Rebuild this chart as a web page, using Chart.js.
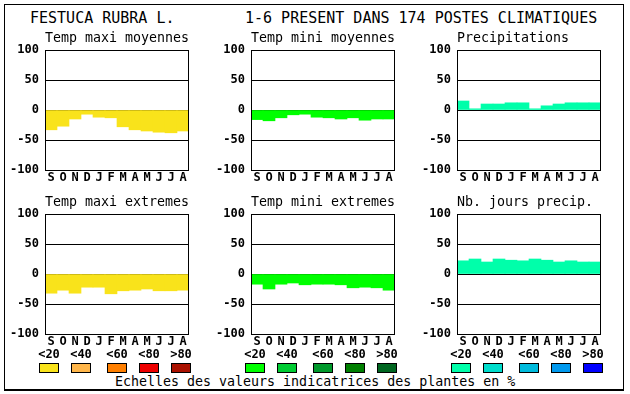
<!DOCTYPE html>
<html>
<head>
<meta charset="utf-8">
<script src="https://cdn.jsdelivr.net/npm/chart.js@4"></script>
<style>
  body { margin: 0; background: #fff; }
  #page { position: relative; width: 630px; height: 394px; overflow: hidden; font-family: "DejaVu Sans Mono", monospace; color: #000; }
  #page canvas { position: absolute; }
  .txt { position: absolute; white-space: pre; }
  .big { font-size: 15px; line-height: 20px; }
  .sub { font-size: 13.3px; line-height: 16px; }
  .lab { font-size: 12px; font-weight: bold; line-height: 14px; width: 40px; text-align: center; }
  .box { position: absolute; width: 20px; height: 10px; box-sizing: border-box; border: 1px solid #000; }
  #frame { position: absolute; left: 4px; top: 4px; width: 620px; height: 387px; box-sizing: border-box; border: 1px solid #000; border-bottom-width: 2px; }
</style>
</head>
<body>
<div id="page">
  <div id="frame"></div>
  <span class="txt big" style="left:30px; top:8px;">FESTUCA RUBRA L.</span>
  <span class="txt big" style="left:245px; top:8px;">1-6 PRESENT DANS 174 POSTES CLIMATIQUES</span>
  <span class="txt sub" style="left:115px; top:374px;">Echelles des valeurs indicatrices des plantes en %</span>
</div>
<script>
//Months of the climate year, starting in September
var months = ["S","O","N","D","J","F","M","A","M","J","J","A"];
//Ticks of every small chart
var yTicks = [-100, -50, 0, 50, 100];
//Legend class labels under each column
var classLabels = ["<20","<40","<60","<80",">80"];

//Values (%)
var tempMaxiMoyennes = [-33,-27,-15,-7,-12,-13,-28,-33,-35,-37,-38,-35];
var tempMiniMoyennes = [-16,-18,-13,-8,-7,-12,-13,-15,-13,-17,-15,-15];
var precipitations   = [15,2,10,10,12,12,2,7,10,12,12,12];
var tempMaxiExtremes = [-32,-27,-32,-22,-22,-33,-28,-27,-25,-28,-28,-27];
var tempMiniExtremes = [-17,-25,-17,-15,-18,-17,-17,-18,-23,-22,-23,-27];
var nbJoursPrecip    = [22,25,20,25,23,22,25,23,20,22,20,20];

//Colour scales for each column
var redScale   = ["#f9e31b","#ffb64a","#ff7f00","#ee0000","#aa1100"];
var greenScale = ["#00ff00","#00cc33","#00992b","#007f00","#006620"];
var blueScale  = ["#00ffaa","#00ddcc","#00bbdd","#0099ee","#0000ff"];

var page = document.getElementById("page");
var colLeft = [45, 251, 457];
var rowTop = [50, 214];

//black box round the plot area
var framePlugin = {
  id: "frame",
  afterDraw: function(chart) {
    var a = chart.chartArea, ctx = chart.ctx;
    ctx.save();
    ctx.strokeStyle = "#000";
    ctx.lineWidth = 1;
    ctx.strokeRect(Math.round(a.left) + 0.5, Math.round(a.top) + 0.5, Math.round(a.right - a.left) - 1, Math.round(a.bottom - a.top));
    ctx.restore();
  }
};

function addText(cls, text, left, top) {
  var s = document.createElement("span");
  s.className = "txt " + cls;
  s.textContent = text;
  s.style.left = left + "px";
  s.style.top = top + "px";
  page.appendChild(s);
}

//one small chart; plot area is 144x120 with its top-left at (left, top)
function makePanel(col, row, title, values, colour) {
  var left = colLeft[col], top = rowTop[row];
  var cv = document.createElement("canvas");
  cv.width = 195; cv.height = 160;
  cv.style.left = (left - 45) + "px";
  cv.style.top = (top - 20) + "px";
  page.appendChild(cv);
  addText("sub", title, left, top - 20);

  new Chart(cv, {
    type: "bar",
    data: {
      labels: months,
      datasets: [{ data: values, backgroundColor: colour, borderWidth: 0, barPercentage: 1, categoryPercentage: 1 }]
    },
    options: {
      responsive: false,
      animation: false,
      devicePixelRatio: 1,
      layout: { padding: { top: 20, right: 6, left: 0, bottom: 0 } },
      plugins: { legend: { display: false }, tooltip: { enabled: false } },
      scales: {
        x: {
          grid: { display: false, drawTicks: false },
          border: { display: false },
          ticks: { color: "#000", font: { family: "DejaVu Sans Mono", size: 12, weight: "bold" }, padding: 1, maxRotation: 0, autoSkip: false },
          afterFit: function(s) { s.height = 20; }
        },
        y: {
          min: -100, max: 100, z: 1,
          afterBuildTicks: function(s) { s.ticks = yTicks.map(function(v) { return { value: v }; }); },
          grid: { color: "#000", lineWidth: 1, drawTicks: false },
          border: { display: false },
          ticks: { color: "#000", font: { family: "DejaVu Sans Mono", size: 12, weight: "bold" }, padding: 6 },
          afterFit: function(s) { s.width = 45; }
        }
      }
    },
    plugins: [framePlugin]
  });
}

//class labels and colour boxes under a column
function makeLegend(col, scale) {
  var offs = [-6, 26, 62, 94, 126];
  for (var i = 0; i < 5; i++) {
    var x = colLeft[col] + offs[i];
    var l = document.createElement("span");
    l.className = "txt lab";
    l.textContent = classLabels[i];
    l.style.left = (x - 10) + "px";
    l.style.top = "347px";
    page.appendChild(l);
    var b = document.createElement("div");
    b.className = "box";
    b.style.left = x + "px";
    b.style.top = "363px";
    b.style.background = scale[i];
    page.appendChild(b);
  }
}

makePanel(0, 0, "Temp maxi moyennes", tempMaxiMoyennes, redScale[0]);
makePanel(1, 0, "Temp mini moyennes", tempMiniMoyennes, greenScale[0]);
makePanel(2, 0, "Precipitations", precipitations, blueScale[0]);
makePanel(0, 1, "Temp maxi extremes", tempMaxiExtremes, redScale[0]);
makePanel(1, 1, "Temp mini extremes", tempMiniExtremes, greenScale[0]);
makePanel(2, 1, "Nb. jours precip.", nbJoursPrecip, blueScale[0]);
makeLegend(0, redScale);
makeLegend(1, greenScale);
makeLegend(2, blueScale);
</script>
</body>
</html>
